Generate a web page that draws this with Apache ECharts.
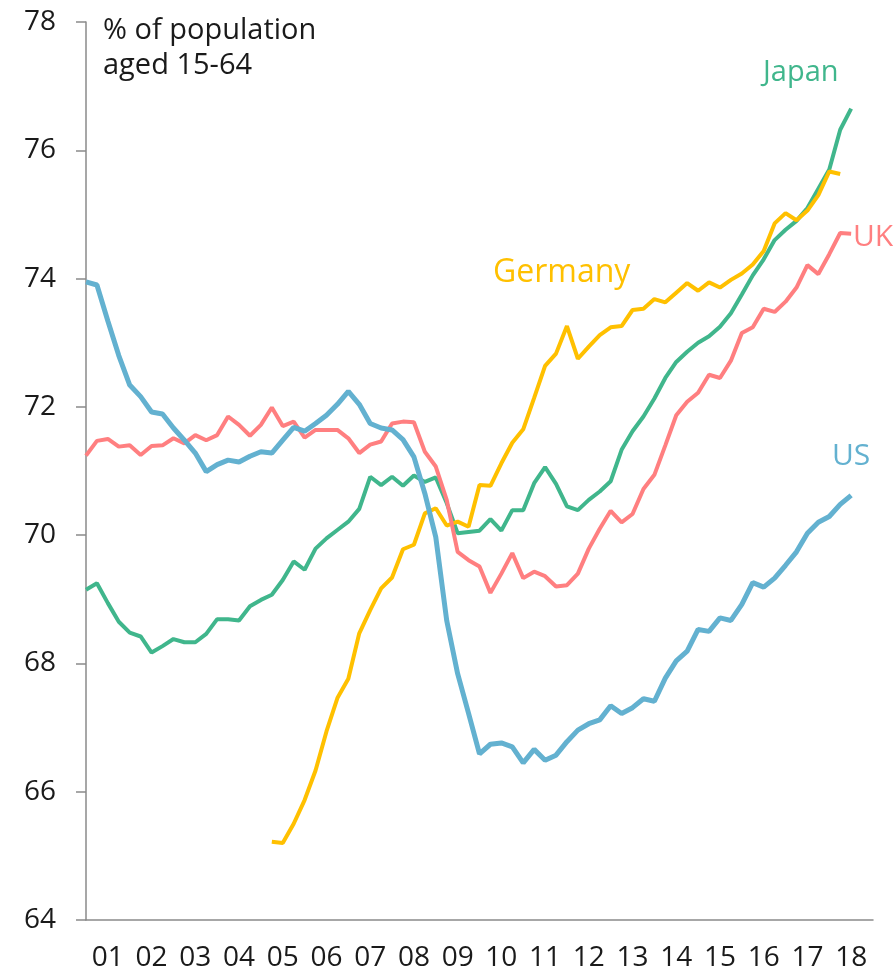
<!DOCTYPE html>
<html lang="en">
<head>
    <meta charset="UTF-8">
    <title>Working-age population</title>
    <script src="https://cdn.jsdelivr.net/npm/echarts@6/dist/echarts.min.js"></script>
</head>
<body style="margin:0;background:#fff;">
<div id="chartContainer" style="width:895px;height:979px;"></div>
<script type="text/javascript">
    // year labels on the x axis
    var years = ['01', '02', '03', '04', '05', '06', '07', '08', '09', '10', '11', '12', '13', '14', '15', '16', '17', '18'];
    var yTicks = [64, 66, 68, 70, 72, 74, 76, 78];

    // quarterly values, first quarter given by the start year
    var usStart = 2001;
    var us = [73.95, 73.9, 73.34, 72.8, 72.34, 72.16, 71.92, 71.89, 71.67, 71.48, 71.28, 70.99,
        71.1, 71.17, 71.14, 71.23, 71.3, 71.28, 71.48, 71.68, 71.62, 71.74, 71.87, 72.04,
        72.24, 72.04, 71.74, 71.67, 71.64, 71.49, 71.22, 70.65, 69.97, 68.67, 67.84, 67.22,
        66.59, 66.74, 66.76, 66.7, 66.45, 66.66, 66.49, 66.57, 66.78, 66.96, 67.06, 67.12,
        67.34, 67.22, 67.31, 67.45, 67.41, 67.77, 68.04, 68.19, 68.53, 68.5, 68.71, 68.67,
        68.92, 69.26, 69.19, 69.33, 69.53, 69.74, 70.03, 70.2, 70.29, 70.48, 70.62];

    var ukStart = 2001;
    var uk = [71.24, 71.47, 71.5, 71.38, 71.4, 71.25, 71.39, 71.4, 71.51, 71.43, 71.56, 71.48,
        71.56, 71.85, 71.72, 71.55, 71.72, 71.99, 71.7, 71.77, 71.52, 71.64, 71.64, 71.64,
        71.51, 71.28, 71.41, 71.46, 71.74, 71.77, 71.76, 71.3, 71.07, 70.55, 69.74, 69.61,
        69.51, 69.1, 69.4, 69.72, 69.33, 69.43, 69.36, 69.2, 69.22, 69.4, 69.79, 70.1,
        70.38, 70.2, 70.33, 70.72, 70.94, 71.4, 71.87, 72.08, 72.22, 72.5, 72.45, 72.72,
        73.15, 73.24, 73.53, 73.48, 73.64, 73.86, 74.21, 74.07, 74.38, 74.71, 74.7];

    var japanStart = 2001;
    var japan = [69.15, 69.25, 68.94, 68.65, 68.48, 68.42, 68.17, 68.27, 68.38, 68.33, 68.33, 68.46,
        68.69, 68.69, 68.67, 68.89, 68.99, 69.07, 69.3, 69.59, 69.46, 69.79, 69.95, 70.08,
        70.21, 70.41, 70.91, 70.78, 70.91, 70.77, 70.93, 70.83, 70.9, 70.5, 70.03, 70.05,
        70.07, 70.25, 70.07, 70.39, 70.39, 70.81, 71.06, 70.8, 70.45, 70.39, 70.55, 70.68,
        70.84, 71.33, 71.62, 71.85, 72.13, 72.45, 72.7, 72.86, 73.0, 73.1, 73.25, 73.46,
        73.75, 74.05, 74.3, 74.6, 74.76, 74.9, 75.1, 75.4, 75.7, 76.32, 76.65];

    var germanyStart = 2005.25;
    var germany = [65.22, 65.2, 65.5, 65.87, 66.33, 66.94, 67.46,
        67.76, 68.47, 68.83, 69.17, 69.34, 69.78, 69.85, 70.34, 70.42, 70.15, 70.21, 70.13,
        70.78, 70.77, 71.12, 71.44, 71.65, 72.14, 72.64, 72.83, 73.26, 72.75, 72.94, 73.12,
        73.24, 73.26, 73.51, 73.53, 73.68, 73.63, 73.78, 73.93, 73.81, 73.94, 73.86, 73.98,
        74.08, 74.22, 74.43, 74.86, 75.02, 74.91, 75.06, 75.3, 75.67, 75.63];

    var colors = {us: '#63b1d0', uk: '#ff7f80', japan: '#40b68c', germany: '#ffc000'};

    // turn a quarterly list into [year, value] pairs
    function toPoints(start, values) {
        return values.map(function (v, i) {
            return [start + i * 0.25, v];
        });
    }

    var chartDom = document.getElementById('chartContainer');
    var myChart = echarts.init(chartDom);
    var fontName = '"Open Sans"';
    var axisGrey = '#8a8a8a';

    var option = {
        animation: false,
        backgroundColor: '#fff',
        textStyle: {fontFamily: fontName},
        grid: {left: 86, right: 22, top: 22, bottom: 59},
        xAxis: [
            {
                type: 'category',
                data: years,
                boundaryGap: true,
                axisLine: {lineStyle: {color: axisGrey, width: 1.5}},
                axisTick: {length: 10, lineStyle: {color: axisGrey, width: 1.5}},
                axisLabel: {color: '#1a1a1a', fontSize: 28, margin: 24, fontFamily: fontName}
            },
            {
                type: 'value',
                min: 2001,
                max: 2019,
                show: false
            }
        ],
        yAxis: {
            type: 'value',
            min: yTicks[0],
            max: yTicks[yTicks.length - 1],
            interval: 2,
            splitLine: {show: false},
            axisLine: {show: true, lineStyle: {color: axisGrey, width: 1.5}},
            axisTick: {show: true, length: 10, lineStyle: {color: axisGrey, width: 1.5}},
            axisLabel: {color: '#1a1a1a', fontSize: 28, margin: 30, fontFamily: fontName}
        },
        series: [
            {
                name: 'Japan', type: 'line', xAxisIndex: 1, showSymbol: false,
                data: toPoints(japanStart, japan),
                lineStyle: {color: colors.japan, width: 4}
            },
            {
                name: 'Germany', type: 'line', xAxisIndex: 1, showSymbol: false,
                data: toPoints(germanyStart, germany),
                lineStyle: {color: colors.germany, width: 4}
            },
            {
                name: 'UK', type: 'line', xAxisIndex: 1, showSymbol: false,
                data: toPoints(ukStart, uk),
                lineStyle: {color: colors.uk, width: 4}
            },
            {
                name: 'US', type: 'line', xAxisIndex: 1, showSymbol: false,
                data: toPoints(usStart, us),
                lineStyle: {color: colors.us, width: 5}
            }
        ],
        graphic: [
            {type: 'text', left: 103, top: 13, style: {text: '% of population\naged 15-64', fill: '#1a1a1a', font: '29px ' + fontName, lineHeight: 35}},
            {type: 'text', left: 763, top: 58, style: {text: 'Japan', fill: colors.japan, font: '29px ' + fontName}},
            {type: 'text', left: 493, top: 257, style: {text: 'Germany', fill: colors.germany, font: '32px ' + fontName}},
            {type: 'text', left: 853, top: 222, style: {text: 'UK', fill: colors.uk, font: '30px ' + fontName}},
            {type: 'text', left: 832, top: 441, style: {text: 'US', fill: colors.us, font: '30px ' + fontName}}
        ]
    };
    option && myChart.setOption(option);
</script>
</body>
</html>
